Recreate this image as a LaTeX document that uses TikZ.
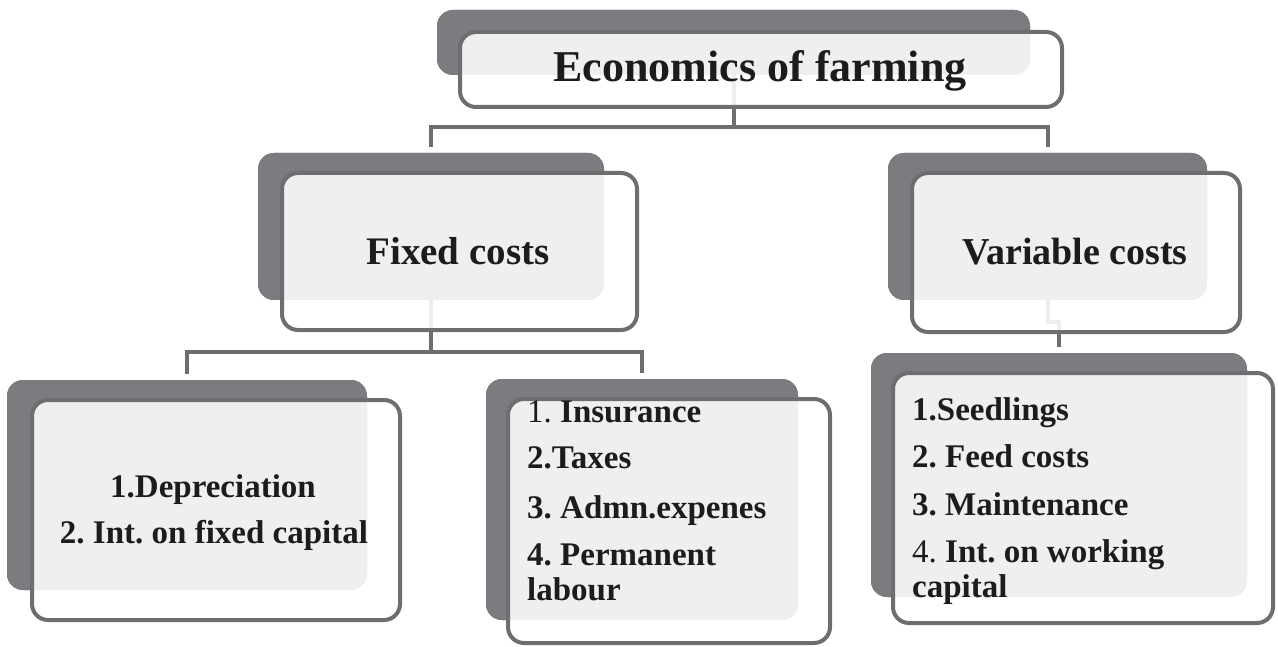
\documentclass[tikz,border=0pt]{standalone}
\usepackage{fontspec}
\setmainfont{Liberation Serif}
\definecolor{cardgrey}{HTML}{7B7C80}
\definecolor{edgegrey}{HTML}{6E6E70}
\definecolor{inkgrey}{HTML}{1C1C1C}
\frenchspacing
\begin{document}
\begin{tikzpicture}[x=1pt,y=-1pt,
  backbox/.style={fill=cardgrey, rounded corners=16pt, inner sep=0pt, outer sep=0pt},
  frontbox/.style={draw=edgegrey, line width=4pt, fill=white, fill opacity=0.88,
                   rounded corners=16pt, inner sep=0pt, outer sep=0pt},
  link/.style={draw=edgegrey, line width=4pt, shorten >=6pt},
  label/.style={inner sep=0pt, text=inkgrey, anchor=base},
  item/.style={inner sep=0pt, text=inkgrey, anchor=base west,
               font=\fontsize{33}{40}\selectfont\bfseries},
  card/.style args={#1/#2}{minimum width=#1pt, minimum height=#2pt}]
\useasboundingbox (0,0) rectangle (1278,647);

% back cards (named first so the connectors can use them)
\path
  node[backbox, card=593/65]  (ecoB)  at (733.5,42.5) {}
  node[backbox, card=346/147] (fixB)  at (431,226.5)  {}
  node[backbox, card=319/147] (varB)  at (1047.5,226.5) {}
  node[backbox, card=360/210] (depB)  at (187,485)    {}
  node[backbox, card=312/241] (insB)  at (642,499.5)  {}
  node[backbox, card=376/244] (seedB) at (1059,475)   {};

% connectors, drawn behind the cards
\draw[link] (ecoB.center) -- ++(0,84.5) -| (fixB.north);
\draw[link] (ecoB.center) -- ++(0,84.5) -| (varB.north);
\draw[link] (fixB.center) -- ++(0,125.5) -| (depB.north);
\draw[link] (fixB.center) -- ++(0,125.5) -| (insB.north);
\draw[link] (varB.center) -- ++(0,95.5) -| (seedB.north);

% repaint the back cards over the connector stubs
\foreach \b in {ecoB,fixB,varB,depB,insB,seedB}{
  \fill[cardgrey, rounded corners=16pt] (\b.north west) rectangle (\b.south east);
}

% front cards
\node[frontbox, card=602/75]  (ecoF)  at (761,69.5)   {};
\node[frontbox, card=355/157] (fixF)  at (459.5,251.5) {};
\node[frontbox, card=328/159] (varF)  at (1076,252.5) {};
\node[frontbox, card=368/220] (depF)  at (216,510)    {};
\node[frontbox, card=322/244] (insF)  at (669,521)    {};
\node[frontbox, card=380/250] (seedF) at (1083,498)   {};

% headings
\node[label, font=\fontsize{44}{50}\selectfont\bfseries] (ecoT) at (760,82) {Economics of farming};
\node[label, font=\fontsize{39}{46}\selectfont\bfseries] (fixT) at (458,265) {Fixed costs};
\node[label, font=\fontsize{38}{46}\selectfont\bfseries] (varT) at (1075,265) {Variable costs};

% fixed-capital items
\node[label, font=\fontsize{33}{40}\selectfont\bfseries] (dep1) at (213,497) {1.Depreciation};
\node[label, font=\fontsize{33}{40}\selectfont\bfseries] (dep2) at (214,543) {2. Int. on fixed capital};

% overhead items
\node[item] (ins1) at (527,422) {\mdseries 1.\ \bfseries Insurance};
\node[item] (ins2) at (527,468) {2.Taxes};
\node[item] (ins3) at (527,518) {3. Admn.expenes};
\node[item] (ins4) at (527,565) {4. Permanent};
\node[item] (ins5) at (527,600) {labour};

% variable items
\node[item] (seed1) at (912,420) {1.Seedlings};
\node[item] (seed2) at (912,467) {2. Feed costs};
\node[item] (seed3) at (912,515) {3. Maintenance};
\node[item] (seed4) at (912,562) {\mdseries 4.\ \bfseries Int. on working};
\node[item] (seed5) at (912,597) {capital};
\end{tikzpicture}
\end{document}
